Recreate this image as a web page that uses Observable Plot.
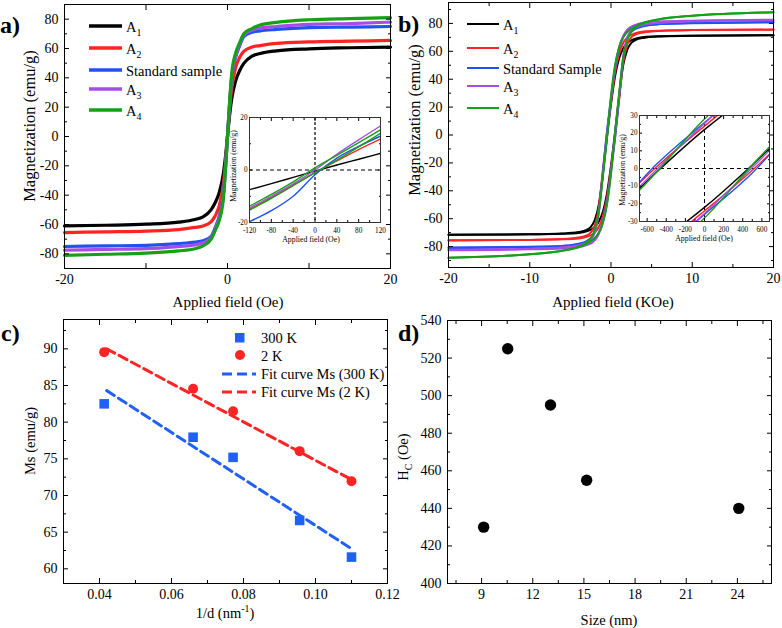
<!DOCTYPE html>
<html><head><meta charset="utf-8">
<script src="https://cdn.jsdelivr.net/npm/d3@7"></script>
<script src="https://cdn.jsdelivr.net/npm/@observablehq/plot@0.6"></script>
<style>
body{margin:0;background:#fff;}
#root{position:relative;width:782px;height:628px;overflow:hidden;font-family:"Liberation Serif","DejaVu Serif","Times New Roman",serif;color:#000;background:#fff;}
#root svg{position:absolute;overflow:visible;}
#root svg text{font-family:"Liberation Serif","DejaVu Serif","Times New Roman",serif;}
.t{position:absolute;white-space:nowrap;line-height:1;}
sub,sup{font-size:68%;line-height:0;}
</style></head><body><div id="root"></div>
<script>
// ---------- DATA ----------
const keys = ["A1", "A2", "Std", "A3", "A4"];
const colors = ["#000000", "#ff2424", "#2152f0", "#a54ee6", "#17a017"];
const legendA = ["A<sub>1</sub>", "A<sub>2</sub>", "Standard sample", "A<sub>3</sub>", "A<sub>4</sub>"];
const legendB = ["A<sub>1</sub>", "A<sub>2</sub>", "Standard Sample", "A<sub>3</sub>", "A<sub>4</sub>"];

// panel a: magnetization (emu/g) vs applied field
const fieldA = [-20, -15, -10, -6, -4, -3, -2, -1.5, -1, -0.5, -0.25, 0, 0.25, 0.5, 1, 1.5, 2, 3, 4, 6, 10, 15, 20];
const magA_A1 = [-61, -60.5, -59.8, -58.4, -56.6, -54.8, -49.8, -45, -38, -25, -14, 0, 14, 25, 38, 45, 49.8, 54.8, 56.6, 58.4, 59.8, 60.5, 61];
const magA_A2 = [-65.5, -65, -64.5, -63.5, -62, -61, -58, -54, -47, -32, -18, 0, 18, 32, 47, 54, 58, 61, 62, 63.5, 64.5, 65, 65.5];
const magA_Std = [-75, -74.6, -74.2, -73, -72, -71, -68, -62, -54, -39, -21, 0, 21, 39, 54, 62, 68, 71, 72, 73, 74.2, 74.6, 75];
const magA_A3 = [-77.5, -77, -76.5, -75, -74, -72.5, -69, -63, -55, -40, -22, 0, 22, 40, 55, 63, 69, 72.5, 74, 75, 76.5, 77, 78];
const magA_A4 = [-81, -80.3, -79.5, -78, -76.5, -74.5, -70, -64, -57, -42, -23, 0, 23, 42, 57, 64, 70, 73.6, 76, 77.8, 79.6, 80.4, 81];

// panel a inset (Oe)
const fieldInA = [-120, -80, -40, 0, 40, 80, 120];
const inA_A1 = [-7.5, -5.2, -2.8, -0.4, 1.9, 4.1, 6.3];
const inA_A2 = [-15, -10.5, -5.8, -1, 3.5, 7.8, 11.8];
const inA_Std = [-19.7, -15.5, -10, -1.8, 4.5, 9, 12.9];
const inA_A3 = [-14.5, -10, -5.3, 0, 6, 11.5, 16.8];
const inA_A4a = [-13.8, -9.3, -4.5, 0.8, 5.6, 10.4, 15.3];
const inA_A4b = [-15.3, -10.8, -6, -1, 3.8, 8.8, 14];

// panel b: descending branch of each loop (kOe); ascending branch is its point reflection
const fieldB = [-20, -10, -6, -4, -3, -2.5, -2, -1.5, -1, -0.5, 0, 0.5, 1, 1.5, 2, 3, 4, 6, 10, 20];
const descB_A1 = [-71.5, -71.2, -70.6, -69.6, -68, -66, -61, -50, -28, -2, 22, 42, 55, 62, 66, 69, 70.2, 70.8, 71.2, 71.6];
const descB_A2 = [-75.5, -75.2, -74.6, -73.5, -72, -70, -65, -52, -25, 1, 24, 45, 58, 66, 70, 73, 74.2, 74.8, 75.2, 75.6];
const descB_Std = [-81, -80.3, -79.5, -78, -76, -74, -69, -55, -27, 2.5, 26, 48, 62, 70, 74, 77.5, 78.8, 79.6, 80.2, 80.7];
const descB_A3 = [-82.3, -81.5, -80.5, -79, -77, -75, -70, -56, -28, -0.5, 25.5, 49, 63, 71, 75.5, 79, 80.5, 81.4, 82, 82.6];
const descB_A4 = [-88, -85.5, -83, -80, -77, -74, -68, -55, -30, -2, 28, 50, 63, 70, 74, 78, 80.5, 83, 85.5, 88];

// panel c
const invD = [0.0413, 0.066, 0.0771, 0.0956, 0.110];
const ms300K = [82.5, 77.95, 75.2, 66.6, 61.6];
const ms2K = [89.55, 84.55, 81.5, 76.05, 71.95];
const fitInvD = [0.042, 0.1095];
const fit300K = [84.3, 62.9];
const fit2K = [90.0, 72.3];

// panel d
const sizeNm = [9.12, 10.53, 13.04, 15.16, 24.08];
const hcOe = [430, 525, 495, 455, 440];

// ---------- HELPERS ----------
const root = document.getElementById("root");
const FONT = '"Liberation Serif","DejaVu Serif","Times New Roman",serif';
function place(svg, left, top) {
  svg.style.position = "absolute"; svg.style.left = left + "px"; svg.style.top = top + "px";
  root.appendChild(svg);
}
function text(html, x, y, {size = 14, anchor = "c", bold = false} = {}) {
  const d = document.createElement("div");
  d.className = "t"; d.innerHTML = html;
  d.style.left = x + "px"; d.style.top = y + "px"; d.style.fontSize = size + "px";
  if (bold) d.style.fontWeight = "bold";
  d.style.transform = anchor === "c" ? "translate(-50%,-50%)" : anchor === "r" ? "translate(-50%,-50%) rotate(-90deg)" : "translate(0,-50%)";
  root.appendChild(d);
  return d;
}
function swatch(x, y, color, {w = 33, sw = 3, dash = null} = {}) {
  const ns = "http://www.w3.org/2000/svg";
  const s = document.createElementNS(ns, "svg");
  s.setAttribute("width", w); s.setAttribute("height", 8);
  s.style.left = x + "px"; s.style.top = (y - 4) + "px";
  const l = document.createElementNS(ns, "line");
  l.setAttribute("x1", 0); l.setAttribute("x2", w); l.setAttribute("y1", 4); l.setAttribute("y2", 4);
  l.setAttribute("stroke", color); l.setAttribute("stroke-width", sw);
  if (dash) l.setAttribute("stroke-dasharray", dash);
  s.appendChild(l); root.appendChild(s);
}
function marker(x, y, color, shape, size) {
  const ns = "http://www.w3.org/2000/svg";
  const s = document.createElementNS(ns, "svg");
  s.setAttribute("width", size); s.setAttribute("height", size);
  s.style.left = (x - size / 2) + "px"; s.style.top = (y - size / 2) + "px";
  const e = document.createElementNS(ns, shape === "circle" ? "circle" : "rect");
  if (shape === "circle") { e.setAttribute("cx", size / 2); e.setAttribute("cy", size / 2); e.setAttribute("r", size / 2); }
  else { e.setAttribute("width", size); e.setAttribute("height", size); }
  e.setAttribute("fill", color); s.appendChild(e); root.appendChild(s);
}
const blank = () => "";
function frameTicks({xMajor, xMinor = [], yMajor, yMinor = [], xFmt, yFmt, big = 5, small = 3, padX = 6, padY = 6}) {
  return [
    Plot.axisX(xMajor, {anchor: "bottom", tickSize: -big, tickPadding: big + padX, tickFormat: xFmt, label: null}),
    Plot.axisX(xMajor, {anchor: "top", tickSize: -big, tickFormat: blank, label: null}),
    Plot.axisX(xMinor, {anchor: "bottom", tickSize: -small, tickFormat: blank, label: null}),
    Plot.axisX(xMinor, {anchor: "top", tickSize: -small, tickFormat: blank, label: null}),
    Plot.axisY(yMajor, {anchor: "left", tickSize: -big, tickPadding: big + padY, tickFormat: yFmt, label: null}),
    Plot.axisY(yMajor, {anchor: "right", tickSize: -big, tickFormat: blank, label: null}),
    Plot.axisY(yMinor, {anchor: "left", tickSize: -small, tickFormat: blank, label: null}),
    Plot.axisY(yMinor, {anchor: "right", tickSize: -small, tickFormat: blank, label: null})
  ];
}
const styleMain = {fontFamily: FONT, fontSize: "14px", color: "#000", background: "none", overflow: "visible"};
const styleInset = {fontFamily: FONT, fontSize: "7.2px", color: "#000", background: "none", overflow: "visible"};
const colorScale = {domain: keys, range: colors};

// ---------- PANEL A ----------
const magA = [magA_A1, magA_A2, magA_Std, magA_A3, magA_A4];
const rowsA = [];
magA.forEach((arr, i) => fieldA.forEach((h, j) => rowsA.push({k: keys[i], h, m: arr[j]})));
place(Plot.plot({
  width: 392, height: 310, marginLeft: 64, marginRight: 2, marginTop: 4, marginBottom: 42,
  x: {domain: [-20, 20]}, y: {domain: [-90, 90]}, color: colorScale, style: styleMain,
  marks: [
    Plot.line(rowsA, {x: "h", y: "m", z: "k", stroke: "k", strokeWidth: 3.2, curve: "monotone-x"}),
    ...frameTicks({xMajor: [-20, -10, 0, 10, 20], yMajor: [-80, -60, -40, -20, 0, 20, 40, 60, 80],
      yMinor: [-90, -70, -50, -30, -10, 10, 30, 50, 70, 90],
      xFmt: d => (d % 20 === 0 ? String(d) : ""), yFmt: d => String(d)}),
    Plot.frame({stroke: "#000"})
  ]
}), 0, 0);

// inset a
const inA = [inA_A1, inA_A2, inA_Std, inA_A3, inA_A4a, inA_A4b];
const inAkeys = ["A1", "A2", "Std", "A3", "A4", "A4"];
const rowsInA = [];
inA.forEach((arr, i) => fieldInA.forEach((h, j) => rowsInA.push({k: inAkeys[i], z: i, h, m: arr[j]})));
place(Plot.plot({
  width: 160, height: 135, marginLeft: 24, marginRight: 5, marginTop: 7, marginBottom: 23,
  x: {domain: [-120, 120]}, y: {domain: [-20, 20]}, color: colorScale, style: styleInset,
  marks: [
    Plot.frame({fill: "#fff", stroke: null}),
    Plot.ruleY([0], {stroke: "#000", strokeWidth: 1, strokeDasharray: "4,3"}),
    Plot.ruleX([0], {stroke: "#555", strokeWidth: 1.8, strokeDasharray: "3,2"}),
    Plot.line(rowsInA, {x: "h", y: "m", z: "z", stroke: "k", strokeWidth: 1.4, curve: "monotone-x", clip: true}),
    ...frameTicks({xMajor: [-120, -80, -40, 0, 40, 80, 120], xMinor: [-100, -60, -20, 20, 60, 100],
      yMajor: [-20, 0, 20], yMinor: [-10, 10], big: 3, small: 2, padX: 5, padY: 2,
      xFmt: d => String(d), yFmt: d => String(d)}),
    Plot.frame({stroke: "#333"})
  ]
}), 225, 110);
text("Magnetization (emu/g)", 234, 166, {size: 7.8, anchor: "r"});
text("Applied field (Oe)", 311, 240, {size: 7.8});

// ---------- PANEL B ----------
const descB = [descB_A1, descB_A2, descB_Std, descB_A3, descB_A4];
const rowsB = [];
descB.forEach((arr, i) => {
  fieldB.forEach((h, j) => rowsB.push({k: keys[i], z: keys[i] + "-d", h, m: arr[j]}));
  for (let j = fieldB.length - 1; j >= 0; j--) rowsB.push({k: keys[i], z: keys[i] + "-u", h: -fieldB[j], m: -arr[j]});
});
place(Plot.plot({
  width: 392, height: 310, marginLeft: 58, marginRight: 9, marginTop: 2, marginBottom: 43,
  x: {domain: [-20, 20]}, y: {domain: [-95, 95]}, color: colorScale, style: styleMain,
  marks: [
    Plot.line(rowsB, {x: "h", y: "m", z: "z", stroke: "k", strokeWidth: 2, curve: "monotone-x"}),
    ...frameTicks({xMajor: [-20, -10, 0, 10, 20], xMinor: [-15, -5, 5, 15],
      yMajor: [-80, -60, -40, -20, 0, 20, 40, 60, 80], yMinor: [-90, -70, -50, -30, -10, 10, 30, 50, 70, 90],
      xFmt: d => String(d), yFmt: d => String(d)}),
    Plot.frame({stroke: "#000"})
  ]
}), 390, 0);

// inset b (Oe)
const rowsInB = rowsB.map(d => ({...d, h: d.h * 1000}));
place(Plot.plot({
  width: 160, height: 135, marginLeft: 27, marginRight: 3, marginTop: 7, marginBottom: 22,
  x: {domain: [-680, 680]}, y: {domain: [-30, 30]}, color: colorScale, style: styleInset,
  marks: [
    Plot.frame({fill: "#fff", stroke: null}),
    Plot.ruleY([0], {stroke: "#000", strokeWidth: 1, strokeDasharray: "4,3"}),
    Plot.ruleX([0], {stroke: "#000", strokeWidth: 1, strokeDasharray: "4,3"}),
    Plot.line(rowsInB, {x: "h", y: "m", z: "z", stroke: "k", strokeWidth: 1.4, curve: "monotone-x", clip: true}),
    ...frameTicks({xMajor: [-600, -400, -200, 0, 200, 400, 600], xMinor: [-500, -300, -100, 100, 300, 500],
      yMajor: [-30, -20, -10, 0, 10, 20, 30], yMinor: [-25, -15, -5, 5, 15, 25], big: 3, small: 2, padX: 5, padY: 2,
      xFmt: d => String(d), yFmt: d => String(d)}),
    Plot.frame({stroke: "#333"})
  ]
}), 612, 108);
text("Magnetization (emu/g)", 623, 170, {size: 7.8, anchor: "r"});
text("Applied field (Oe)", 704, 239, {size: 7.8});

// ---------- PANEL C ----------
const rowsC300 = invD.map((v, i) => ({v, m: ms300K[i]}));
const rowsC2 = invD.map((v, i) => ({v, m: ms2K[i]}));
const fitC300 = fitInvD.map((v, i) => ({v, m: fit300K[i]}));
const fitC2 = fitInvD.map((v, i) => ({v, m: fit2K[i]}));
place(Plot.plot({
  width: 392, height: 318, marginLeft: 63, marginRight: 5, marginTop: 9, marginBottom: 45,
  x: {domain: [0.03, 0.12]}, y: {domain: [58, 94]}, style: styleMain,
  marks: [
    Plot.line(fitC300, {x: "v", y: "m", stroke: "#2060f5", strokeWidth: 3, strokeDasharray: "9,5"}),
    Plot.line(fitC2, {x: "v", y: "m", stroke: "#ff2424", strokeWidth: 3, strokeDasharray: "9,5"}),
    Plot.dot(rowsC300, {x: "v", y: "m", symbol: "square", r: 5.4, fill: "#2060f5", stroke: null}),
    Plot.dot(rowsC2, {x: "v", y: "m", symbol: "circle", r: 5, fill: "#ff2424", stroke: null}),
    ...frameTicks({xMajor: [0.04, 0.06, 0.08, 0.10, 0.12], xMinor: [0.03, 0.05, 0.07, 0.09, 0.11],
      yMajor: [60, 65, 70, 75, 80, 85, 90], yMinor: [62.5, 67.5, 72.5, 77.5, 82.5, 87.5, 92.5],
      xFmt: d3.format(".2f"), yFmt: d => String(d)}),
    Plot.frame({stroke: "#000"})
  ]
}), 0, 310);

// ---------- PANEL D ----------
const rowsD = sizeNm.map((s, i) => ({s, hc: hcOe[i]}));
place(Plot.plot({
  width: 392, height: 318, marginLeft: 57, marginRight: 11, marginTop: 10, marginBottom: 45,
  x: {domain: [7, 26]}, y: {domain: [400, 540]}, style: styleMain,
  marks: [
    Plot.dot(rowsD, {x: "s", y: "hc", r: 5.7, fill: "#000", stroke: null}),
    ...frameTicks({xMajor: [9, 12, 15, 18, 21, 24], xMinor: [7.5, 10.5, 13.5, 16.5, 19.5, 22.5, 25.5],
      yMajor: [400, 420, 440, 460, 480, 500, 520, 540], yMinor: [410, 430, 450, 470, 490, 510, 530],
      xFmt: d => String(d), yFmt: d => String(d)}),
    Plot.frame({stroke: "#000"})
  ]
}), 390, 310);

// ---------- TITLES / LEGENDS ----------
text("a)", 0, 25, {size: 24, bold: true, anchor: "l"});
text("b)", 398, 24, {size: 24, bold: true, anchor: "l"});
text("c)", 1, 333, {size: 24, bold: true, anchor: "l"});
text("d)", 398, 333, {size: 24, bold: true, anchor: "l"});

text("Magnetization (emu/g)", 30, 126, {size: 16.5, anchor: "r"});
text("Applied field (Oe)", 228, 302, {size: 15});
text("Magnetization (emu/g)", 415, 120, {size: 16.5, anchor: "r"});
text("Applied field (KOe)", 613, 302, {size: 15});
text("Ms (emu/g)", 30, 441, {size: 14.5, anchor: "r"});
text("1/d (nm<sup>-1</sup>)", 225, 613, {size: 14.5});
text("H<sub>C</sub> (Oe)", 403, 457, {size: 14.5, anchor: "r"});
text("Size (nm)", 609, 620, {size: 14.5});

const legAy = [26, 48, 70, 89, 110];
legAy.forEach((y, i) => { swatch(89, y, colors[i], {w: 33, sw: 3.5}); text(legendA[i], 126, y + 1, {size: 14.5, anchor: "l"}); });
const legBy = [24, 47.5, 68, 86, 107.5];
legBy.forEach((y, i) => { swatch(467, y, colors[i], {w: 32, sw: 2}); text(legendB[i], 503, y + 1, {size: 14.5, anchor: "l"}); });

marker(240, 338, "#2060f5", "rect", 9.5);
marker(240, 355, "#ff2424", "circle", 10);
swatch(222, 374, "#2060f5", {w: 34, sw: 3, dash: "10,5"});
swatch(222, 392, "#ff2424", {w: 34, sw: 3, dash: "10,5"});
text("300 K", 261, 338, {size: 14.5, anchor: "l"});
text("2 K", 261, 356, {size: 14.5, anchor: "l"});
text("Fit curve Ms (300 K)", 261, 374, {size: 14.5, anchor: "l"});
text("Fit curve Ms (2 K)", 261, 392, {size: 14.5, anchor: "l"});
</script></body></html>
